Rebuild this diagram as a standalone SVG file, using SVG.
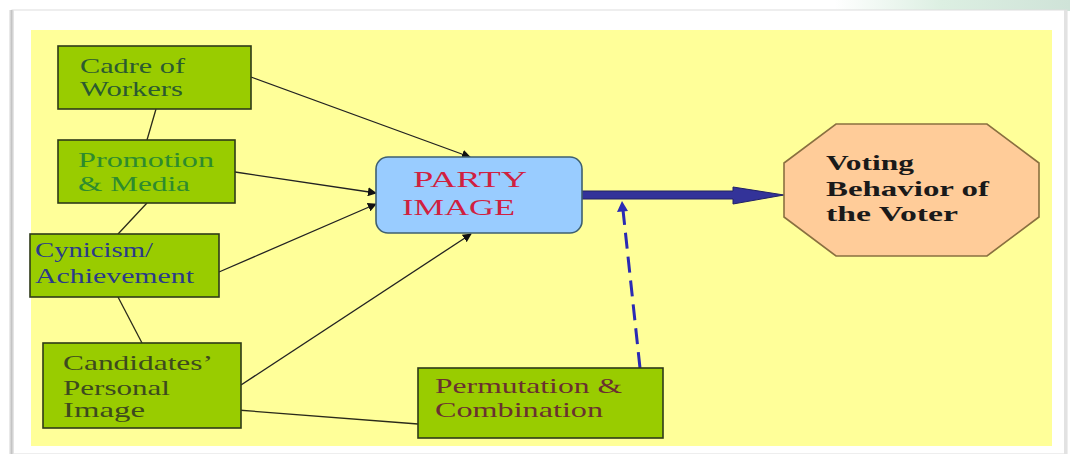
<svg xmlns="http://www.w3.org/2000/svg" width="1070" height="454" viewBox="0 0 1070 454">
  <defs>
    <linearGradient id="topg" x1="0" y1="0" x2="1" y2="0">
      <stop offset="0" stop-color="#ffffff"/>
      <stop offset="0.78" stop-color="#ffffff"/>
      <stop offset="0.88" stop-color="#dcefe2"/>
      <stop offset="1" stop-color="#cfe3d8"/>
    </linearGradient>
    <linearGradient id="leftg" x1="0" y1="0" x2="1" y2="0">
      <stop offset="0" stop-color="#f2f2f2"/>
      <stop offset="0.5" stop-color="#c4c4c4"/>
      <stop offset="1" stop-color="#ececec"/>
    </linearGradient>
    <marker id="ah" viewBox="0 0 10 10" refX="9" refY="5" markerWidth="9" markerHeight="9" markerUnits="userSpaceOnUse" orient="auto">
      <path d="M0,0 L10,5 L0,10 z" fill="#111"/>
    </marker>
  </defs>
  <style>
    .box { fill: #99cc00; stroke: #2e3a18; stroke-width: 1.6; }
    .t { font-family: "Liberation Serif", "DejaVu Serif", "Times New Roman", serif; font-size: 21px; }
    .thin { stroke: #2a2a1a; stroke-width: 1.3; fill: none; }
    .arr { stroke: #222; stroke-width: 1.3; fill: none; marker-end: url(#ah); }
  </style>

  <!-- frame -->
  <rect x="0" y="0" width="1070" height="454" fill="#ffffff"/>
  <rect x="0" y="0" width="1070" height="11" fill="url(#topg)"/>
  <rect x="12" y="10" width="1055" height="444" fill="#ffffff" stroke="#dddddd" stroke-width="1"/>
  <rect x="9" y="10" width="5" height="444" fill="url(#leftg)"/>
  <rect x="1064" y="10" width="3" height="444" fill="#e2e2e2"/>
  <rect x="31" y="30" width="1021" height="416" fill="#ffff99"/>

  <g id="connectors">
    <line class="thin" x1="156" y1="109" x2="147" y2="140"/>
    <line class="thin" x1="147" y1="203" x2="118" y2="234"/>
    <line class="thin" x1="118" y1="297" x2="142" y2="343"/>
    <line class="thin" x1="237" y1="410" x2="418" y2="424"/>
    <line class="arr" x1="251" y1="77" x2="470" y2="157"/>
    <line class="arr" x1="235" y1="172" x2="376" y2="193"/>
    <line class="arr" x1="219" y1="272" x2="376" y2="204"/>
    <line class="arr" x1="241" y1="385" x2="471" y2="234"/>
    <path d="M582,191 L733,191 L733,187 L784,195 L733,204 L733,199 L582,199 z" fill="#333399" stroke="#222266" stroke-width="1"/>
    <line x1="640" y1="368" x2="623" y2="210" stroke="#2a2ab4" stroke-width="3" stroke-dasharray="16,8"/>
    <path d="M622,201 L617,212 L628,211 z" fill="#2a2ab4"/>
  </g>

  <g id="cadre">
    <rect class="box" x="58" y="46" width="193" height="63"/>
    <text class="t" font-family="Liberation Serif, serif" fill="#2b5a30"><tspan x="80" y="73" textLength="105" lengthAdjust="spacingAndGlyphs">Cadre of</tspan><tspan x="80" y="96" textLength="103" lengthAdjust="spacingAndGlyphs">Workers</tspan></text>
  </g>
  <g id="promotion">
    <rect class="box" x="58" y="140" width="177" height="63"/>
    <text class="t" font-family="Liberation Serif, serif" fill="#2e8b2e"><tspan x="78" y="167" textLength="136" lengthAdjust="spacingAndGlyphs">Promotion</tspan><tspan x="78" y="191" textLength="112" lengthAdjust="spacingAndGlyphs">&amp; Media</tspan></text>
  </g>
  <g id="cynicism">
    <rect class="box" x="30" y="234" width="189" height="63"/>
    <text class="t" font-family="Liberation Serif, serif" fill="#2a3a8a"><tspan x="35" y="257" textLength="118" lengthAdjust="spacingAndGlyphs">Cynicism/</tspan><tspan x="35" y="283" textLength="159" lengthAdjust="spacingAndGlyphs">Achievement</tspan></text>
  </g>
  <g id="candidates">
    <rect class="box" x="43" y="343" width="198" height="85"/>
    <text class="t" font-family="Liberation Serif, serif" fill="#3d4a1e"><tspan x="63" y="370" textLength="150" lengthAdjust="spacingAndGlyphs">Candidates’</tspan><tspan x="63" y="395" textLength="107" lengthAdjust="spacingAndGlyphs">Personal</tspan><tspan x="63" y="417" textLength="82" lengthAdjust="spacingAndGlyphs">Image</tspan></text>
  </g>
  <g id="permutation">
    <rect class="box" x="418" y="368" width="245" height="70"/>
    <text class="t" font-family="Liberation Serif, serif" fill="#6a3030"><tspan x="435" y="393" textLength="187" lengthAdjust="spacingAndGlyphs">Permutation &amp;</tspan><tspan x="435" y="417" textLength="168" lengthAdjust="spacingAndGlyphs">Combination</tspan></text>
  </g>
  <g id="party">
    <rect x="376" y="157" width="206" height="76" rx="12" ry="12" fill="#99ccff" stroke="#3f6070" stroke-width="1.6"/>
    <text class="t" font-family="Liberation Serif, serif" style="font-size:23px" fill="#d02040"><tspan x="413" y="187" textLength="114" lengthAdjust="spacingAndGlyphs">PARTY</tspan><tspan x="402" y="215" textLength="113" lengthAdjust="spacingAndGlyphs">IMAGE</tspan></text>
  </g>
  <g id="voting">
    <polygon points="836,124 987,124 1039,163 1039,217 987,256 836,256 784,217 784,163" fill="#ffcc99" stroke="#8a7040" stroke-width="1.6"/>
    <text class="t" font-family="Liberation Serif, serif" style="font-size:22px;font-weight:bold" fill="#1a1a1a"><tspan x="826" y="170" textLength="88" lengthAdjust="spacingAndGlyphs">Voting</tspan><tspan x="826" y="196" textLength="163" lengthAdjust="spacingAndGlyphs">Behavior of</tspan><tspan x="826" y="221" textLength="132" lengthAdjust="spacingAndGlyphs">the Voter</tspan></text>
  </g>
</svg>
